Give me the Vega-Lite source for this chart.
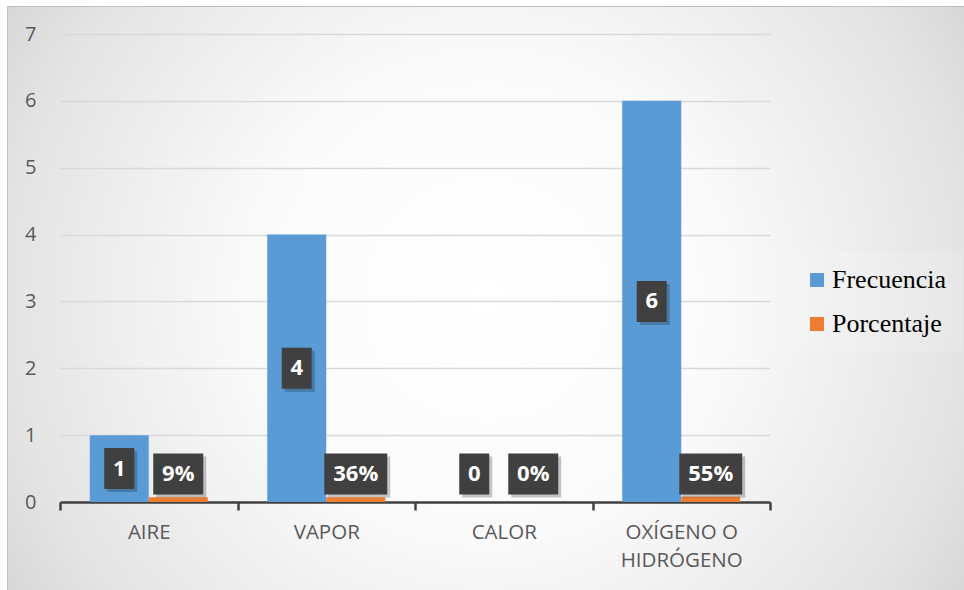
{
  "$schema": "https://vega.github.io/schema/vega-lite/v6.json",
  "width": 957,
  "height": 584,
  "autosize": "none",
  "padding": {"left": 7, "top": 6, "right": 0, "bottom": 0},
  "background": "white",
  "data": {
    "values": [
      {"categoria": "AIRE", "serie": "Frecuencia", "valor": 1, "etiqueta": "1"},
      {"categoria": "AIRE", "serie": "Porcentaje", "valor": 0.07, "etiqueta": "9%"},
      {"categoria": "VAPOR", "serie": "Frecuencia", "valor": 4, "etiqueta": "4"},
      {"categoria": "VAPOR", "serie": "Porcentaje", "valor": 0.07, "etiqueta": "36%"},
      {"categoria": "CALOR", "serie": "Frecuencia", "valor": 0, "etiqueta": "0"},
      {"categoria": "CALOR", "serie": "Porcentaje", "valor": 0, "etiqueta": "0%"},
      {"categoria": "OXÍGENO O HIDRÓGENO", "serie": "Frecuencia", "valor": 6, "etiqueta": "6"},
      {"categoria": "OXÍGENO O HIDRÓGENO", "serie": "Porcentaje", "valor": 0.08, "etiqueta": "55%"}
    ]
  },
  "transform": [
    {"calculate": "max(datum.valor / 2, 0.42)", "as": "posEtiqueta"},
    {"calculate": "'' + length(datum.etiqueta)", "as": "largo"},
    {"calculate": "'s' + length(datum.etiqueta)", "as": "sombra"}
  ],
  "encoding": {
    "x": {
      "field": "categoria",
      "type": "nominal",
      "sort": ["AIRE", "VAPOR", "CALOR", "OXÍGENO O HIDRÓGENO"],
      "scale": {"range": [53, 763], "paddingInner": 0, "paddingOuter": 0},
      "axis": {
        "title": null,
        "orient": "bottom",
        "offset": -88,
        "tickBand": "extent",
        "domainColor": "#404040",
        "domainWidth": 2.5,
        "tickColor": "#404040",
        "tickWidth": 2.5,
        "tickSize": 8,
        "labelAngle": 0,
        "labelFont": "Open Sans",
        "labelFontSize": 20.5,
        "labelColor": "#595959",
        "labelPadding": 12,
        "labelLineHeight": 28,
        "labelOverlap": false,
        "labelExpr": "datum.label == 'OXÍGENO O HIDRÓGENO' ? ['OXÍGENO O', 'HIDRÓGENO'] : datum.label"
      }
    },
    "xOffset": {
      "field": "serie",
      "type": "nominal",
      "scale": {"domain": ["Frecuencia", "Porcentaje"], "paddingInner": 0, "paddingOuter": 0.504}
    }
  },
  "layer": [
    {
      "mark": {"type": "bar"},
      "encoding": {
        "y": {
          "field": "valor",
          "type": "quantitative",
          "scale": {"domain": [0, 7], "range": [496, 28], "nice": false, "zero": true},
          "axis": {
            "title": null,
            "orient": "left",
            "offset": -53,
            "values": [0, 1, 2, 3, 4, 5, 6, 7],
            "format": "d",
            "domain": false,
            "ticks": false,
            "grid": true,
            "gridColor": "#d9d9d9",
            "gridWidth": 1.3,
            "labelFont": "Open Sans",
            "labelFontSize": 20,
            "labelColor": "#595959",
            "labelPadding": 24
          }
        },
        "color": {
          "field": "serie",
          "type": "nominal",
          "scale": {"domain": ["Frecuencia", "Porcentaje"], "range": ["#5b9bd5", "#ed7d31"]},
          "legend": {
            "title": null,
            "orient": "none",
            "legendX": 782,
            "legendY": 246,
            "padding": 15,
            "fillColor": "rgba(255,255,255,0.12)",
            "symbolType": "square",
            "symbolSize": 196,
            "symbolStrokeWidth": 0,
            "labelFont": "Liberation Serif",
            "labelFontSize": 26,
            "labelColor": "#000000",
            "labelOffset": 2,
            "rowPadding": 18
          }
        }
      }
    },
    {
      "mark": {"type": "point", "filled": true, "color": "#000000", "opacity": 0.22, "strokeWidth": 0, "size": 4096},
      "encoding": {
        "y": {"field": "posEtiqueta", "type": "quantitative"},
        "shape": {
          "field": "sombra",
          "type": "nominal",
          "scale": {
            "domain": ["1", "2", "3", "s1", "s2", "s3"],
            "range": [
              "M-0.469,-0.64H0.469V0.64H-0.469Z",
              "M-0.781,-0.64H0.781V0.64H-0.781Z",
              "M-0.984,-0.64H0.984V0.64H-0.984Z",
              "M-0.375,-0.546H0.563V0.734H-0.375Z",
              "M-0.687,-0.546H0.875V0.734H-0.687Z",
              "M-0.89,-0.546H1.078V0.734H-0.89Z"
            ]
          },
          "legend": null
        }
      }
    },
    {
      "mark": {"type": "point", "filled": true, "color": "#404040", "opacity": 1, "strokeWidth": 0, "size": 4096},
      "encoding": {
        "y": {"field": "posEtiqueta", "type": "quantitative"},
        "shape": {"field": "largo", "type": "nominal", "legend": null}
      }
    },
    {
      "mark": {"type": "text", "color": "#ffffff", "font": "Open Sans", "fontWeight": "bold", "fontSize": 22, "baseline": "middle", "align": "center"},
      "encoding": {
        "y": {"field": "posEtiqueta", "type": "quantitative"},
        "text": {"field": "etiqueta", "type": "nominal"}
      }
    }
  ],
  "config": {
    "view": {
      "fill": {
        "gradient": "radial",
        "x1": 0.5, "y1": 0.5, "r1": 0,
        "x2": 0.5, "y2": 0.5, "r2": 0.71,
        "stops": [
          {"offset": 0, "color": "#ffffff"},
          {"offset": 0.35, "color": "#fafafa"},
          {"offset": 0.7, "color": "#e4e4e4"},
          {"offset": 1, "color": "#c6c6c6"}
        ]
      },
      "stroke": "#bfbfbf",
      "strokeWidth": 1
    }
  }
}
